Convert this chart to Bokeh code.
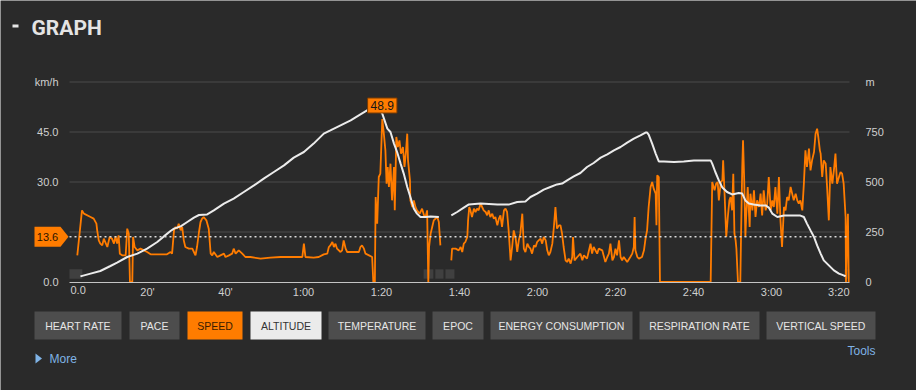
from bokeh.plotting import figure
from bokeh.models import (Range1d, LinearAxis, FixedTicker, Label,
                          BoxAnnotation, PolyAnnotation)
from bokeh.embed import file_html
from bokeh.resources import INLINE

NaN = float("nan")

# ---------------- data (time in minutes) ----------------
speed_time = [
    2.0, 3.2, 3.7, 5.4, 6.2, 6.9, 7.1, 7.5, 7.9, 8.4,
    8.8, 9.7, 10.3, 10.9, 11.4, 11.8, 12.2, 12.6, 12.9, 13.5,
    14.4, 14.8, 15.2, 15.5, 16.1, 16.3, 16.7, 17.4, 18.2, 19.1,
    19.9, 20.8, 23.3, 25.0, 25.9, 26.3, 26.8, 27.2, 27.6, 28.0,
    28.5, 28.9, 29.3, 29.7, 30.6, 31.5, 31.9, 32.3, 32.7, 33.2,
    33.6, 34.0, 34.4, 35.1, 35.7, 36.2, 36.6, 37.0, 37.9, 38.7,
    39.6, 40.0, 40.9, 41.7, 42.1, 42.6, 43.4, 44.3, 45.1, 46.4,
    49.0, 51.5, 54.1, 57.5, 59.7, 60.1, 60.5, 62.6, 63.9, 65.2,
    66.1, 66.5, 66.9, 67.4, 67.8, 68.2, 68.6, 69.5, 69.9, 70.3,
    70.8, 71.2, 72.9, 74.2, 74.6, 75.0, 75.5, 75.9, 76.8, 77.6,
    77.9, 78.3, 78.5, 78.9, 79.3, 79.7, 80.2, 80.6, 81.0, 81.3,
    81.6, 81.9, 82.3, 82.7, 83.2, 83.4, 83.8, 84.2, 84.6, 85.0,
    85.5, 85.9, 86.3, 86.6, 86.8, 87.3, 87.4, 87.9, 88.3, 88.7,
    89.1, 89.8, 90.4, 90.9, 91.3, 91.7, 92.0, 92.2, 92.6, 93.0,
    93.4, 94.3, 94.7, 95.1, 96.5,
    97.9, 98.1, 99.0, 99.8, 100.3, 100.7, 101.1, 101.5, 102.0, 102.2,
    102.5, 102.8, 103.2, 103.7, 104.1, 104.5, 104.9, 105.4, 105.8, 106.2,
    106.7, 107.1, 107.5, 107.9, 108.4, 108.8, 109.2, 109.7, 110.1, 110.5,
    110.9, 111.4, 111.8, 112.2, 112.6, 113.1, 113.5, 113.9, 114.4, 114.8,
    115.2, 115.6, 116.1, 116.5, 116.9, 117.4, 117.8, 118.2, 118.6, 119.1,
    119.5, 119.9, 120.3, 120.8, 121.2, 121.6, 122.1, 122.5, 122.9, 123.3,
    123.8, 124.2, 124.6, 125.0, 125.5, 125.9, 126.3, 126.7, 127.2, 127.6,
    128.0, 128.5, 128.9, 129.1, 129.5, 130.2, 131.0, 131.5, 131.9, 132.7,
    133.6, 134.0, 134.4, 135.3, 135.7, 136.6, 137.4, 137.9, 138.3, 138.7,
    139.2, 139.6, 140.0, 140.4, 140.9, 141.3, 141.7, 142.1, 143.0, 143.8,
    144.3, 144.7, 144.9, 145.1, 145.6, 146.0, 146.8, 147.3, 147.7, 148.1,
    148.5, 149.0, 149.4, 149.8, 150.3, 150.5, 150.7, 151.1, 151.4, 164.4,
    164.8, 165.4, 165.8, 166.2, 166.5, 167.0, 167.4, 167.6, 168.0, 168.4,
    168.8, 169.2, 169.5, 169.9, 170.2, 170.5, 170.8, 171.0, 171.4, 172.0,
    172.2, 172.5, 172.7, 173.0, 173.3, 173.5, 173.9, 174.4, 174.6, 175.1,
    175.5, 175.9, 176.3, 176.8, 177.2, 177.6, 178.0, 178.5, 178.9, 179.3,
    179.8, 180.2, 180.6, 181.0, 181.5, 181.9, 182.3, 182.7, 183.2, 183.6,
    184.0, 184.4, 184.9, 185.3, 185.7, 186.2, 186.6, 187.0, 187.4, 187.9,
    188.3, 188.7, 189.1, 189.6, 190.0, 190.4, 190.9, 191.3, 191.7, 192.0,
    192.4, 192.6, 193.0, 193.4, 193.9, 194.3, 194.7, 195.1, 195.6, 196.0,
    196.4, 196.8, 197.3, 197.7, 198.1, 198.5, 199.0, 199.1, 199.4, 199.6,
    199.8,
]
speed_kmh = [
    8.0, 21.5, 20.5, 19.5, 19.0, 17.5, 15.5, 12.5, 11.5, 11.0,
    13.0, 10.5, 13.5, 13.0, 11.5, 13.7, 11.5, 14.0, 8.5, 8.0,
    8.0, 16.0, 14.5, 0.0, 0.0, 13.5, 10.5, 9.5, 10.0, 9.5,
    9.0, 8.3, 8.3, 8.3, 9.0, 8.5, 15.5, 16.5, 16.0, 17.5,
    15.5, 16.5, 12.5, 10.5, 10.0, 10.0, 9.0, 8.0, 10.5, 15.0,
    18.0, 19.0, 19.5, 18.5, 16.0, 8.5, 8.0, 9.0, 7.5, 8.0,
    8.5, 7.5, 8.0, 8.5, 10.0, 8.5, 9.5, 8.5, 7.5, 7.5,
    7.0, 7.3, 7.5, 7.5, 7.5, 11.5, 7.5, 7.3, 7.5, 8.3,
    8.5, 10.5, 11.0, 12.0, 10.5, 11.5, 10.0, 9.0, 9.5, 12.5,
    10.0, 9.0, 9.0, 9.0, 10.5, 11.0, 10.0, 8.5, 8.0, 7.5,
    0.0, 0.0, 25.5, 17.5, 31.5, 32.5, 48.9, 44.5, 39.5, 29.5,
    34.5, 28.5, 35.5, 24.5, 34.5, 21.5, 43.5, 40.5, 42.5, 38.5,
    40.5, 34.5, 39.5, 44.5, 36.5, 30.5, 24.5, 22.5, 24.5, 22.5,
    21.5, 20.5, 22.0, 20.0, 19.5, 21.5, 0.0, 10.5, 14.5, 16.5,
    18.5, 19.5, 18.0, 11.0, NaN,
    6.5, 10.0, 10.0, 9.5, 10.5, 9.0, 11.5, 12.0, 13.5, 18.5,
    22.5, 21.5, 19.5, 22.0, 21.0, 22.0, 21.5, 23.5, 22.5, 21.5,
    21.0, 20.0, 21.5, 19.5, 20.5, 19.0, 19.5, 17.0, 19.0, 20.0,
    16.5, 21.5, 22.0, 21.0, 15.5, 6.5, 10.5, 15.5, 13.0, 9.0,
    12.5, 14.5, 20.5, 10.0, 9.0, 11.5, 10.5, 10.0, 8.5, 11.0,
    10.5, 12.0, 12.5, 13.0, 11.5, 13.5, 12.5, 9.5, 8.0, 9.0,
    11.5, 16.5, 22.5, 16.0, 17.0, 17.0, 14.5, 10.5, 6.5, 6.0,
    7.0, 5.5, 7.5, 13.5, 6.5, 7.5, 8.5, 6.5, 8.0, 7.0,
    11.5, 8.5, 10.5, 8.5, 10.0, 9.5, 6.0, 7.5, 8.5, 11.5,
    6.5, 7.5, 10.0, 8.0, 12.5, 7.5, 6.5, 7.5, 6.0, 7.5,
    8.5, 10.5, 19.5, 9.5, 7.5, 7.0, 7.5, 9.5, 13.0, 15.5,
    22.5, 28.5, 30.0, 28.0, 26.5, 17.0, 32.0, 31.5, 0.0, 0.0,
    30.0, 27.5, 29.5, 30.0, 24.5, 30.0, 30.5, 36.5, 25.5, 13.5,
    19.5, 24.5, 25.5, 21.5, 32.5, 14.5, 12.5, 10.0, 0.0, 0.0,
    14.5, 34.5, 42.5, 30.5, 13.5, 19.5, 28.5, 16.5, 26.5, 21.5,
    27.5, 19.5, 24.5, 22.5, 26.5, 20.0, 27.5, 21.5, 23.5, 31.5,
    21.5, 24.5, 22.5, 28.5, 20.5, 31.5, 18.5, 10.5, 22.5, 21.5,
    25.5, 24.5, 28.5, 26.5, 24.5, 26.5, 24.5, 23.5, 24.5, 21.5,
    29.5, 39.5, 34.5, 40.0, 33.5, 36.5, 39.0, 44.5, 46.0, 43.5,
    39.5, 38.5, 31.5, 36.5, 35.5, 27.5, 18.5, 34.5, 29.5, 33.5,
    38.5, 29.5, 31.5, 33.0, 32.5, 29.5, 19.5, 0.0, 14.5, 20.5,
    0.0,
]

altitude_time = [
    2.8, 5.4, 7.9, 10.5, 12.2, 14.8, 17.4, 19.9, 22.5, 24.2,
    25.9, 26.8, 28.5, 30.2, 31.9, 33.2, 35.3, 37.0, 39.6, 42.1,
    44.7, 47.3, 49.8, 52.4, 55.0, 57.5, 60.1, 62.6, 65.2, 66.9,
    69.5, 72.1, 74.6, 76.3, 78.5, 80.2, 81.5, 82.3, 83.2, 84.0,
    84.9, 85.7, 86.6, 87.4, 88.3, 89.1, 90.0, 91.3, 92.6, 94.7,
    96.3, 97.9, 99.4, 101.1, 102.4, 105.4, 109.7, 112.6, 114.8, 116.9,
    118.2, 119.9, 121.6, 123.3, 125.0, 126.3, 127.6, 129.3, 131.0, 132.7,
    134.4, 136.2, 137.9, 139.6, 141.3, 143.0, 144.7, 146.4, 147.7, 148.1,
    148.5, 149.4, 150.3, 151.1, 152.4, 155.0, 157.5, 160.1, 162.6, 164.4,
    164.8, 165.6, 166.5, 167.4, 168.6, 169.9, 171.6, 172.5, 173.3, 174.2,
    175.4, 177.2, 178.5, 179.3, 180.2, 181.5, 183.2, 184.9, 187.4, 188.3,
    189.1, 190.0, 190.9, 191.7, 192.6, 193.4, 194.7, 196.0, 197.3, 198.5,
    199.0,
]
altitude_m = [
    28, 42, 55, 80, 97, 125, 142, 167, 200, 228,
    255, 267, 278, 300, 322, 335, 338, 358, 392, 417,
    450, 483, 517, 550, 583, 622, 650, 692, 742, 758,
    783, 808, 838, 858, 883, 842, 767, 750, 692, 650,
    592, 542, 475, 425, 367, 342, 325, 325, 328, 325,
    NaN, 333, 350, 372, 388, 392, 388, 387, 400, 403,
    425, 442, 462, 475, 488, 492, 508, 528, 545, 575,
    595, 622, 638, 658, 675, 697, 717, 733, 747, 747,
    737, 692, 642, 603, 603, 600, 603, 608, 608, 608,
    592, 550, 508, 472, 450, 438, 445, 442, 408, 392,
    388, 383, 383, 372, 342, 325, 332, 332, 332, 325,
    292, 258, 225, 183, 142, 108, 83, 58, 42, 33,
    28,
]

lap_start = [0.0, 90.8, 93.8, 96.4, 198.7]
lap_end = [3.3, 93.3, 95.9, 98.7, 200.0]

avg_speed = 13.6
max_speed = 48.9
max_speed_time = 80.2

x_ticks = [0, 20, 40, 60, 80, 100, 120, 140, 160, 180, 200]
x_tick_labels = ["0.0", "20'", "40'", "1:00", "1:20", "1:40", "2:00",
                 "2:20", "2:40", "3:00", "3:20"]
speed_ticks = [0, 15, 30, 45, 60]
speed_tick_labels = ["0.0", "", "30.0", "45.0", "km/h"]
alt_ticks = [0, 250, 500, 750, 1000]
alt_tick_labels = ["0", "250", "500", "750", "m"]

buttons = ["HEART RATE", "PACE", "SPEED", "ALTITUDE", "TEMPERATURE", "EPOC",
           "ENERGY CONSUMPTION", "RESPIRATION RATE", "VERTICAL SPEED"]
button_left = [34, 129, 187, 250, 328, 432, 490, 639, 766]
button_right = [121, 179, 242, 321, 425, 483, 632, 759, 875]

# ---------------- style / layout ----------------
BG = "#2a2a2a"
ORANGE = "#ff7c00"
GRID = "#4a4a4a"
TXT = "#cfcfcf"
LINK = "#7fb3e6"
FONT = "Liberation Sans"

W, H = 916, 390
PL, PR, PT, PB = 69, 849, 81.5, 281.5     # plot area edges (page px)
T0, T1 = x_ticks[0], x_ticks[-1]
V0, V1 = speed_ticks[0], speed_ticks[-1]
A0, A1 = alt_ticks[0], alt_ticks[-1]
kx = (PR - PL) / (T1 - T0)                 # px per minute
ky = (PB - PT) / (V1 - V0)                 # px per km/h
ka = (PB - PT) / (A1 - A0)                 # px per metre

# the frame covers the whole page so that every annotation is visible
x_range = Range1d(T0 - PL / kx, T1 + (W - PR) / kx)
y_range = Range1d(V0 - (H - PB) / ky, V1 + PT / ky)
alt_range = Range1d(A0 - (H - PB) / ka, A1 + PT / ka)


def sx(x):   # page px -> screen x
    return x


def sy(y):   # page px -> screen y (measured up from the bottom)
    return H - y


p = figure(width=W, height=H, x_range=x_range, y_range=y_range,
           output_backend="svg", toolbar_location=None, title=None,
           min_border=0, min_border_left=0, min_border_right=0,
           min_border_top=0, min_border_bottom=0,
           background_fill_color=BG, border_fill_color=BG,
           outline_line_color=None)
p.extra_y_ranges = {"alt": alt_range}


def style_axis(ax, standoff):
    ax.major_tick_line_color = None
    ax.minor_tick_line_color = None
    ax.major_tick_out = 0
    ax.major_tick_in = 0
    ax.minor_tick_out = 0
    ax.minor_tick_in = 0
    ax.major_label_standoff = standoff
    ax.major_label_text_color = TXT
    ax.major_label_text_font = FONT
    ax.major_label_text_font_size = "11px"


# x axis
xa = p.xaxis[0]
xa.ticker = FixedTicker(ticks=x_ticks)
ov = {t: lab for t, lab in zip(x_ticks, x_tick_labels)}
ov[T0] = ""
ov[T1] = ""
xa.major_label_overrides = ov
xa.fixed_location = V0
xa.bounds = (T0, T1)
xa.axis_line_color = "#c4c4c4"
xa.axis_line_width = 1
style_axis(xa, 4)

# left axis
ya = p.yaxis[0]
ya.ticker = FixedTicker(ticks=speed_ticks)
ya.major_label_overrides = {t: lab for t, lab in zip(speed_ticks, speed_tick_labels)}
ya.fixed_location = T0
ya.bounds = (V0, V1)
ya.axis_line_color = None
style_axis(ya, 11)

# right axis
ra = LinearAxis(y_range_name="alt", ticker=FixedTicker(ticks=alt_ticks))
ra.major_label_overrides = {t: lab for t, lab in zip(alt_ticks, alt_tick_labels)}
ra.fixed_location = T1
ra.bounds = (A0, A1)
ra.axis_line_color = None
style_axis(ra, 16)
p.add_layout(ra, "right")

# horizontal grid lines limited to the plot area
p.grid.visible = False
p.segment(x0=T0, x1=T1, y0=speed_ticks[1:], y1=speed_ticks[1:],
          line_color=GRID, line_width=1)

# lap markers
p.quad(left=lap_start, right=lap_end, bottom=1.0, top=3.8,
       fill_color="#404040", line_color=None)

# series
p.line(speed_time, speed_kmh, line_color=ORANGE, line_width=1.8)
p.line(altitude_time, altitude_m, y_range_name="alt",
       line_color="#ebebeb", line_width=2)

# average line + marker
p.segment(x0=T0, x1=T1, y0=avg_speed, y1=avg_speed, line_color="#dcdcdc",
          line_dash="2 3", line_width=1.5)
p.add_layout(PolyAnnotation(
    xs=[sx(34), sx(60), sx(68), sx(60), sx(34)], xs_units="screen",
    ys=[avg_speed + 3, avg_speed + 3, avg_speed, avg_speed - 3, avg_speed - 3],
    ys_units="data", fill_color=ORANGE, fill_alpha=1, line_color=None))
p.add_layout(Label(x=sx(47), x_units="screen", y=avg_speed, text=f"{avg_speed}",
                   text_align="center", text_baseline="middle",
                   text_color="#2b1400", text_font=FONT, text_font_size="11px"))

# max speed label
p.add_layout(Label(x=max_speed_time, y=max_speed, text=f"{max_speed}",
                   text_align="center", text_baseline="bottom", y_offset=6,
                   background_fill_color=ORANGE, border_line_color="#7a3a00",
                   padding=3, text_color="#161616", text_font=FONT,
                   text_font_size="12px"))

# x edge labels
p.add_layout(Label(x=T0, y=V0, x_offset=1, y_offset=-4,
                   text=x_tick_labels[0], text_align="left", text_baseline="top",
                   text_color=TXT, text_font=FONT, text_font_size="11px"))
p.add_layout(Label(x=T1, y=V0, y_offset=-4,
                   text=x_tick_labels[-1], text_align="right", text_baseline="top",
                   text_color=TXT, text_font=FONT, text_font_size="11px"))

# title
p.add_layout(BoxAnnotation(left=sx(12), right=sx(18), top=sy(24), bottom=sy(27),
                           left_units="screen", right_units="screen",
                           top_units="screen", bottom_units="screen",
                           fill_color="#e6e6e6", fill_alpha=1, line_color=None))
p.add_layout(Label(x=sx(31), y=sy(27.5), x_units="screen", y_units="screen",
                   text="GRAPH", text_baseline="middle",
                   text_color="#e4e4e4", text_font="Roboto",
                   text_font_style="bold", text_font_size="21px"))

# buttons
for name, bl, br in zip(buttons, button_left, button_right):
    if name == "SPEED":
        fill, tc = ORANGE, "#3a1c00"
    elif name == "ALTITUDE":
        fill, tc = "#ebebeb", "#333333"
    else:
        fill, tc = "#4d4d4d", "#e6e6e6"
    p.add_layout(BoxAnnotation(left=sx(bl), right=sx(br), top=sy(311), bottom=sy(339),
                               left_units="screen", right_units="screen",
                               top_units="screen", bottom_units="screen",
                               fill_color=fill, fill_alpha=1, line_color=None))
    p.add_layout(Label(x=sx((bl + br) / 2), y=sy(325.5), x_units="screen",
                       y_units="screen", text=name, text_align="center",
                       text_baseline="middle", text_color=tc, text_font=FONT,
                       text_font_size="10.5px"))

# More / Tools
p.add_layout(PolyAnnotation(xs=[sx(35), sx(35), sx(41.5)], ys=[sy(353), sy(363), sy(358)],
                            xs_units="screen", ys_units="screen",
                            fill_color=LINK, fill_alpha=1, line_color=None))
p.add_layout(Label(x=sx(49), y=sy(358.5), x_units="screen", y_units="screen",
                   text="More", text_baseline="middle", text_color=LINK,
                   text_font=FONT, text_font_size="12px"))
p.add_layout(Label(x=sx(875), y=sy(350), x_units="screen", y_units="screen",
                   text="Tools", text_align="right", text_baseline="middle",
                   text_color=LINK, text_font=FONT, text_font_size="12px"))

open("out.html", "w").write(file_html(p, INLINE))
